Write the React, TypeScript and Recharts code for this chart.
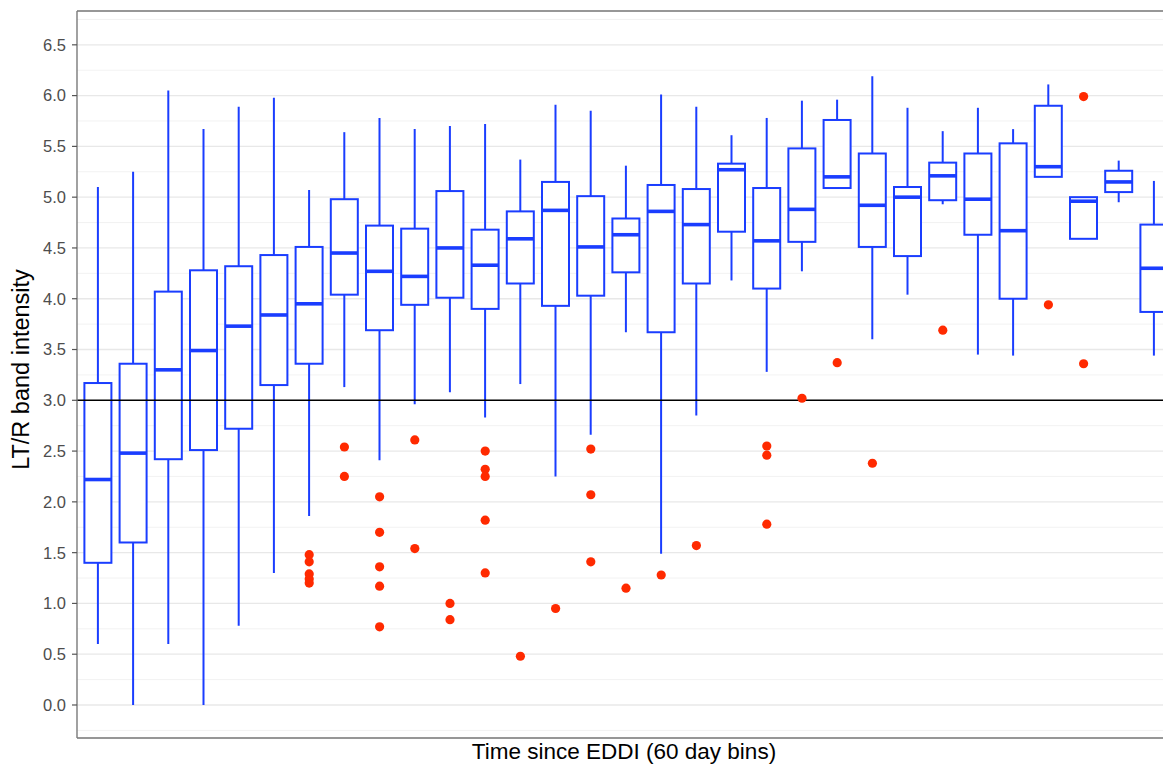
import React from 'react';
import {
  ComposedChart,
  Bar,
  Scatter,
  XAxis,
  YAxis,
  CartesianGrid,
  ReferenceLine,
  Label,
} from 'recharts';

// ---- data ----
const bins = [
  '1', '2', '3', '4', '5', '6', '7', '8', '9', '10', '11', '12', '13', '14', '15', '16',
  '17', '18', '19', '20', '21', '22', '23', '24', '25', '26', '27', '28', '29', '30', '31',
];
const whiskerLow = [0.6, 0.0, 0.6, 0.0, 0.78, 1.3, 1.86, 3.13, 2.41, 2.96, 3.08, 2.83, 3.16, 2.25, 2.66, 3.67, 1.49, 2.85, 4.18, 3.28, 4.27, 5.09, 3.6, 4.04, 4.93, 3.45, 3.44, 5.2, 4.59, 4.95, 3.44];
const q1 = [1.4, 1.6, 2.42, 2.51, 2.72, 3.15, 3.36, 4.04, 3.69, 3.94, 4.01, 3.9, 4.15, 3.93, 4.03, 4.26, 3.67, 4.15, 4.66, 4.1, 4.56, 5.09, 4.51, 4.42, 4.97, 4.63, 4.0, 5.2, 4.59, 5.05, 3.87];
const median = [2.22, 2.48, 3.3, 3.49, 3.73, 3.84, 3.95, 4.45, 4.27, 4.22, 4.5, 4.33, 4.59, 4.87, 4.51, 4.63, 4.86, 4.73, 5.27, 4.57, 4.88, 5.2, 4.92, 5.0, 5.21, 4.98, 4.67, 5.3, 4.96, 5.15, 4.3];
const q3 = [3.17, 3.36, 4.07, 4.28, 4.32, 4.43, 4.51, 4.98, 4.72, 4.69, 5.06, 4.68, 4.86, 5.15, 5.01, 4.79, 5.12, 5.08, 5.33, 5.09, 5.48, 5.76, 5.43, 5.1, 5.34, 5.43, 5.53, 5.9, 5.0, 5.26, 4.73];
const whiskerHigh = [5.1, 5.25, 6.05, 5.67, 5.89, 5.98, 5.07, 5.64, 5.78, 5.67, 5.7, 5.72, 5.37, 5.91, 5.85, 5.31, 6.01, 5.89, 5.61, 5.78, 5.95, 5.96, 6.19, 5.88, 5.65, 5.88, 5.67, 6.11, 5.0, 5.36, 5.16];
const outliers: number[][] = [
  [], [], [], [], [], [],
  [1.48, 1.41, 1.29, 1.24, 1.2],
  [2.54, 2.25],
  [2.05, 1.7, 1.36, 1.17, 0.77],
  [2.61, 1.54],
  [1.0, 0.84],
  [2.5, 2.32, 2.25, 1.82, 1.3],
  [0.48],
  [0.95],
  [2.52, 2.07, 1.41],
  [1.15],
  [1.28],
  [1.57],
  [],
  [2.55, 2.46, 1.78],
  [3.02],
  [3.37],
  [2.38],
  [],
  [3.69],
  [],
  [],
  [3.94],
  [5.99, 3.36],
  [],
  [],
];
const majorTicks = [0, 0.5, 1, 1.5, 2, 2.5, 3, 3.5, 4, 4.5, 5, 5.5, 6, 6.5];
const minorTicks = [-0.25, 0.25, 0.75, 1.25, 1.75, 2.25, 2.75, 3.25, 3.75, 4.25, 4.75, 5.25, 5.75, 6.25, 6.75];
const Y_MIN = -0.325;
const Y_MAX = 6.833;
const THRESHOLD = 3;

// ---- tables built from the arrays ----
const boxData = bins.map((bin, i) => ({
  bin,
  lo: whiskerLow[i],
  q1: q1[i],
  med: median[i],
  q3: q3[i],
  hi: whiskerHigh[i],
}));
const outlierData = bins.flatMap((bin, i) => outliers[i].map((v) => ({ bin, v })));

const BLUE = '#1a3dff';
const RED = '#ff2a00';
const FONT = '"Liberation Sans", Arial, Helvetica, sans-serif';

const BoxShape = (props: any) => {
  const { x, y, width, height, payload } = props;
  if (payload == null) return null;
  const top = Math.min(y, y + height);
  const bottom = Math.max(y, y + height);
  const span = payload.hi - payload.lo;
  const toPx = (v: number) => (span === 0 ? top : top + ((payload.hi - v) / span) * (bottom - top));
  const cx = x + width / 2;
  const yq3 = toPx(payload.q3);
  const yq1 = toPx(payload.q1);
  const ym = toPx(payload.med);
  return (
    <g>
      <line x1={cx} x2={cx} y1={top} y2={bottom} stroke={BLUE} strokeWidth={2} />
      <rect x={x} y={yq3} width={width} height={Math.max(yq1 - yq3, 0.5)} fill="#ffffff" stroke={BLUE} strokeWidth={2} />
      <line x1={x} x2={x + width} y1={ym} y2={ym} stroke={BLUE} strokeWidth={3.6} />
    </g>
  );
};

const OutlierDot = (props: any) => {
  const { cx, cy } = props;
  if (cx == null || cy == null || isNaN(cx) || isNaN(cy)) return null;
  return <circle cx={cx} cy={cy} r={4.6} fill={RED} />;
};

const minorGen = (args: any) => {
  const yAxis = args && args.yAxis;
  if (yAxis && typeof yAxis.scale === 'function') {
    return minorTicks.map((v) => yAxis.scale(v));
  }
  const off = args.offset;
  return minorTicks.map((v) => off.top + ((Y_MAX - v) / (Y_MAX - Y_MIN)) * off.height);
};

const XTitle = (props: any) => {
  const vb = props.viewBox || { x: 0, y: 0, width: 0, height: 0 };
  return (
    <text
      x={vb.x + vb.width / 2 - 2}
      y={vb.y + 21}
      textAnchor="middle"
      fontSize={22.5}
      fontFamily={FONT}
      fill="#000000"
    >
      Time since EDDI (60 day bins)
    </text>
  );
};

const YTitle = (props: any) => {
  const vb = props.viewBox || { x: 0, y: 0, width: 0, height: 0 };
  const cx = vb.x + 29;
  const cy = vb.y + vb.height / 2 - 5;
  return (
    <text
      x={cx}
      y={cy}
      transform={`rotate(-90 ${cx} ${cy})`}
      textAnchor="middle"
      fontSize={23.5}
      fontFamily={FONT}
      fill="#000000"
    >
      LT/R band intensity
    </text>
  );
};

export default function App() {
  return (
    <div
      style={{
        position: 'absolute',
        left: 0,
        top: 0,
        width: 1163,
        height: 764,
        overflow: 'hidden',
        background: '#ffffff',
      }}
    >
      <ComposedChart
        width={1200}
        height={764}
        data={boxData}
        margin={{ top: 11, right: 25, bottom: 0, left: 0 }}
        barCategoryGap={0}
      >
        <CartesianGrid
          vertical={false}
          stroke="#f0f0f0"
          strokeWidth={0.9}
          horizontalCoordinatesGenerator={minorGen}
        />
        <CartesianGrid vertical={false} stroke="#e8e8e8" strokeWidth={1.3} />
        <XAxis
          dataKey="bin"
          type="category"
          allowDuplicatedCategory={false}
          padding={{ left: 3.4, right: 3.4 }}
          height={26}
          tick={false}
          tickLine={false}
          axisLine={{ stroke: '#7a7a7a', strokeWidth: 1.4 }}
        >
          <Label content={<XTitle />} />
        </XAxis>
        <YAxis
          type="number"
          domain={[Y_MIN, Y_MAX]}
          allowDataOverflow
          ticks={majorTicks}
          interval={0}
          width={77}
          tickSize={5}
          tickMargin={6}
          tickFormatter={(v: number) => v.toFixed(1)}
          tick={{ fill: '#4d4d4d', fontSize: 16.5, fontFamily: FONT }}
          tickLine={{ stroke: '#555555', strokeWidth: 1.2 }}
          axisLine={{ stroke: '#7a7a7a', strokeWidth: 1.4 }}
        >
          <Label content={<YTitle />} />
        </YAxis>
        <ReferenceLine y={Y_MAX} stroke="#7a7a7a" strokeWidth={1.4} />
        <Bar
          dataKey={(d: any) => [d.lo, d.hi]}
          barSize={27}
          shape={<BoxShape />}
          isAnimationActive={false}
        />
        <ReferenceLine y={THRESHOLD} stroke="#000000" strokeWidth={1.6} />
        <Scatter
          data={outlierData}
          dataKey="v"
          shape={<OutlierDot />}
          isAnimationActive={false}
        />
      </ComposedChart>
    </div>
  );
}
